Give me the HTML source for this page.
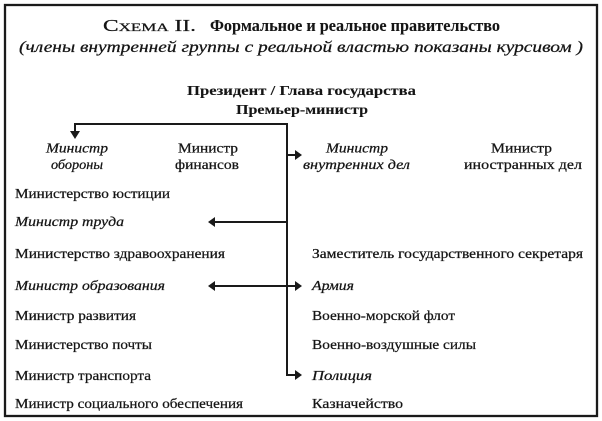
<!DOCTYPE html>
<html>
<head>
<meta charset="utf-8">
<style>
html,body{margin:0;padding:0;background:#fff;}
svg{display:block;}
text{font-family:"Liberation Serif","DejaVu Serif",serif;fill:#151515;stroke:#151515;stroke-width:0.25;}
.i{font-style:italic;}
.b{font-weight:bold;stroke-width:0.1;}
</style>
</head>
<body>
<svg width="602" height="421" viewBox="0 0 602 421" xmlns="http://www.w3.org/2000/svg">
<rect x="0" y="0" width="602" height="421" fill="#fff"/>
<rect x="5" y="5" width="592" height="411" fill="none" stroke="#1a1a1a" stroke-width="2.3"/>

<!-- Title -->
<text x="103" y="31" font-size="16.5" textLength="93" lengthAdjust="spacingAndGlyphs">С<tspan font-size="12">ХЕМА</tspan> II.</text>
<text x="210" y="31" font-size="16.5" class="b" textLength="290" lengthAdjust="spacingAndGlyphs">Формальное и реальное правительство</text>
<text x="19" y="52" font-size="15.5" class="i" textLength="564" lengthAdjust="spacingAndGlyphs">(члены внутренней группы с реальной властью показаны курсивом )</text>

<text x="187" y="95" font-size="14" class="b" textLength="229" lengthAdjust="spacingAndGlyphs">Президент / Глава государства</text>
<text x="236" y="114" font-size="14" class="b" textLength="132" lengthAdjust="spacingAndGlyphs">Премьер-министр</text>

<!-- Connectors -->
<g stroke="#1a1a1a" stroke-width="2" fill="none">
<polyline points="75,132 75,124 287,124 287,375 296,375"/>
<line x1="287" y1="155" x2="296" y2="155"/>
<line x1="287" y1="222" x2="213" y2="222"/>
<line x1="213" y1="286" x2="296" y2="286"/>
</g>
<g fill="#1a1a1a">
<polygon points="70,131 80,131 75,139"/>
<polygon points="295,150 295,160 302,155"/>
<polygon points="215,217 215,227 208,222"/>
<polygon points="215,281 215,291 208,286"/>
<polygon points="295,281 295,291 302,286"/>
<polygon points="295,370 295,380 302,375"/>
</g>

<!-- Top row -->
<text x="46" y="152.5" font-size="13.5" class="i" textLength="62" lengthAdjust="spacingAndGlyphs">Министр</text>
<text x="51" y="169" font-size="13.5" class="i" textLength="52" lengthAdjust="spacingAndGlyphs">обороны</text>
<text x="178" y="152.5" font-size="13.5" textLength="60" lengthAdjust="spacingAndGlyphs">Министр</text>
<text x="175" y="169" font-size="13.5" textLength="64" lengthAdjust="spacingAndGlyphs">финансов</text>
<text x="326" y="152.5" font-size="13.5" class="i" textLength="62" lengthAdjust="spacingAndGlyphs">Министр</text>
<text x="303" y="169" font-size="13.5" class="i" textLength="107" lengthAdjust="spacingAndGlyphs">внутренних дел</text>
<text x="491" y="152.5" font-size="13.5" textLength="61" lengthAdjust="spacingAndGlyphs">Министр</text>
<text x="464" y="169" font-size="13.5" textLength="118" lengthAdjust="spacingAndGlyphs">иностранных дел</text>

<!-- Left column -->
<text x="15" y="198" font-size="13.5" textLength="155" lengthAdjust="spacingAndGlyphs">Министерство юстиции</text>
<text x="15" y="226" font-size="13.5" class="i" textLength="109" lengthAdjust="spacingAndGlyphs">Министр труда</text>
<text x="15" y="258" font-size="13.5" textLength="210" lengthAdjust="spacingAndGlyphs">Министерство здравоохранения</text>
<text x="15" y="290" font-size="13.5" class="i" textLength="150" lengthAdjust="spacingAndGlyphs">Министр образования</text>
<text x="15" y="320" font-size="13.5" textLength="121" lengthAdjust="spacingAndGlyphs">Министр развития</text>
<text x="15" y="349" font-size="13.5" textLength="137" lengthAdjust="spacingAndGlyphs">Министерство почты</text>
<text x="15" y="380" font-size="13.5" textLength="136" lengthAdjust="spacingAndGlyphs">Министр транспорта</text>
<text x="15" y="408" font-size="13.5" textLength="228" lengthAdjust="spacingAndGlyphs">Министр социального обеспечения</text>

<!-- Right column -->
<text x="312" y="258" font-size="13.5" textLength="271" lengthAdjust="spacingAndGlyphs">Заместитель государственного секретаря</text>
<text x="312" y="290" font-size="13.5" class="i" textLength="42" lengthAdjust="spacingAndGlyphs">Армия</text>
<text x="312" y="320" font-size="13.5" textLength="143" lengthAdjust="spacingAndGlyphs">Военно-морской флот</text>
<text x="312" y="349" font-size="13.5" textLength="164" lengthAdjust="spacingAndGlyphs">Военно-воздушные силы</text>
<text x="312" y="380" font-size="13.5" class="i" textLength="60" lengthAdjust="spacingAndGlyphs">Полиция</text>
<text x="312" y="408" font-size="13.5" textLength="91" lengthAdjust="spacingAndGlyphs">Казначейство</text>
</svg>
</body>
</html>
